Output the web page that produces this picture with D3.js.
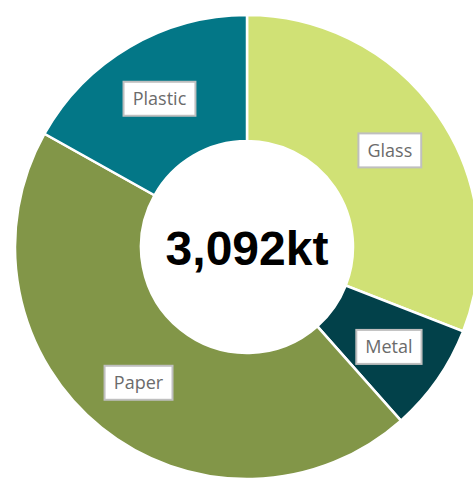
<!DOCTYPE html>
<html>
<head>
<meta charset="utf-8">
<script src="https://cdn.jsdelivr.net/npm/d3@7"></script>
<style>
  body { margin: 0; background: #fff; }
  svg { display: block; }
</style>
</head>
<body>
<div id="chart"></div>
<script>
// --------------------------------------
//  Data
// --------------------------------------

const materials = ["Glass", "Metal", "Paper", "Plastic"];
const tonnes = [956, 233, 1381, 522];
const colors = ["#d0e175", "#02414a", "#829648", "#037787"];

const width = 473;
const height = 481;
const cx = 247, cy = 247;
const outerR = 232, innerR = 106;

const svg = d3.select("#chart")
  .append("svg")
    .attr("width", width)
    .attr("height", height);

const g = svg.append("g")
    .attr("transform", `translate(${cx}, ${cy})`);

const data = materials.map((m, i) => ({ name: m, value: tonnes[i], color: colors[i] }));

const pie = d3.pie()
    .value(d => d.value)
    .sort(null);

const arc = d3.arc()
    .innerRadius(innerR)
    .outerRadius(outerR);

// label spot, a touch further out than the ring middle
const labelArc = d3.arc()
    .innerRadius(110)
    .outerRadius(236);

const arcs = pie(data);

// slices
g.append("g")
  .selectAll("path")
  .data(arcs)
  .join("path")
    .attr("d", arc)
    .attr("fill", d => d.data.color)
    .attr("stroke", "#fff")
    .attr("stroke-width", 2.5);

// labels
const labels = g.append("g")
  .selectAll("g")
  .data(arcs)
  .join("g")
    .attr("transform", d => {
      const [x, y] = labelArc.centroid(d);
      return `translate(${x}, ${y + 1})`;
    });

labels.append("rect")
    .attr("fill", "#fff")
    .attr("stroke", "#bfbfbf")
    .attr("stroke-width", 2);

labels.append("text")
    .attr("text-anchor", "middle")
    .attr("dy", "0.35em")
    .attr("font-family", "'Open Sans', sans-serif")
    .attr("font-size", 18)
    .attr("fill", "#6b6b6b")
    .text(d => d.data.name);

labels.each(function() {
  const t = d3.select(this).select("text").node().getBBox();
  d3.select(this).select("rect")
    .attr("x", -t.width / 2 - 9)
    .attr("y", -17)
    .attr("width", t.width + 18)
    .attr("height", 34);
});

// total in the middle
g.append("text")
    .attr("text-anchor", "middle")
    .attr("y", 18)
    .attr("font-family", "'Liberation Sans', Arial, sans-serif")
    .attr("font-weight", "bold")
    .attr("font-size", 48)
    .attr("fill", "#000")
    .text(d3.format(",")(d3.sum(tonnes)) + "kt");
</script>
</body>
</html>
